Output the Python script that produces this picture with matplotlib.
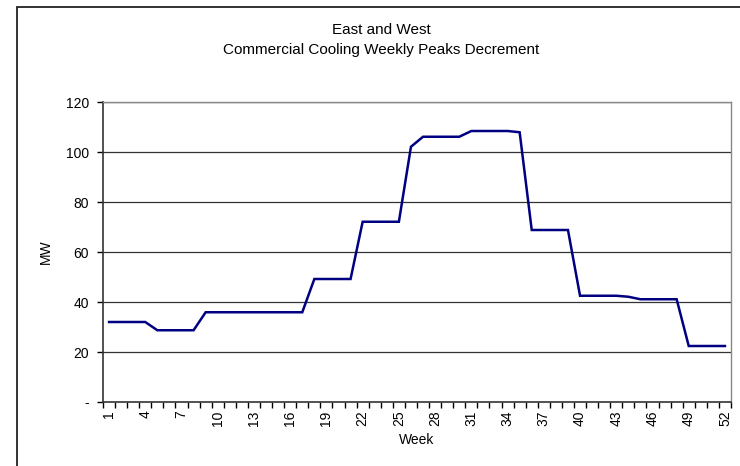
import numpy as np
import matplotlib.pyplot as plt
import matplotlib.patches as patches

plt.rcParams['font.family'] = ['Liberation Sans', 'DejaVu Sans']

# Weekly peak decrement, MW
weeks = list(range(1, 53))
peaks_mw = [
    32, 32, 32, 32, 28.7, 28.7, 28.7, 28.7, 35.9, 35.9,
    35.9, 35.9, 35.9, 35.9, 35.9, 35.9, 35.9, 49.2, 49.2, 49.2,
    49.2, 72.1, 72.1, 72.1, 72.1, 102.1, 106.1, 106.1, 106.1, 106.1,
    108.4, 108.4, 108.4, 108.4, 107.9, 68.8, 68.8, 68.8, 68.8, 42.5,
    42.5, 42.5, 42.5, 42.1, 41.1, 41.1, 41.1, 41.1, 22.4, 22.4,
    22.4, 22.4,
]
y_ticks = [0, 20, 40, 60, 80, 100, 120]
y_tick_labels = ['-', '20', '40', '60', '80', '100', '120']

fig = plt.figure(figsize=(7.4, 4.66), dpi=100)
ax = fig.add_axes([103 / 740, 1 - 402 / 466, 628 / 740, 300 / 466])

# chart frame around the whole figure
fig.patches.append(patches.Rectangle((17 / 740, -0.1), 1.0, 1 - 7 / 466 + 0.1,
                                     transform=fig.transFigure, fill=False,
                                     edgecolor='#222222', linewidth=1.3))

x = np.arange(len(weeks))
ax.plot(x, peaks_mw, color='#000080', linewidth=1.8, solid_joinstyle='miter')

ax.set_xlim(-0.5, len(weeks) - 0.5)
ax.set_ylim(0, 120)
ax.set_yticks(y_ticks)
ax.set_yticklabels(y_tick_labels, fontsize=10)
for yv in y_ticks[1:]:
    ax.axhline(yv, color='#333333', linewidth=0.9, zorder=0)

# category axis: ticks between weeks, labels every third week
ax.set_xticks(np.arange(len(weeks) + 1) - 0.5, minor=False)
ax.set_xticklabels([])
ax.set_xticks(x[::3], minor=True)
ax.set_xticklabels([str(w) for w in weeks[::3]], minor=True, rotation=90, fontsize=10)
ax.tick_params(axis='x', which='minor', length=0, pad=6)
ax.tick_params(axis='x', which='major', length=4, direction='out', width=1)
ax.tick_params(axis='y', length=4, direction='out', width=1, pad=6)

for side in ['top', 'right']:
    ax.spines[side].set_color('#888888')
    ax.spines[side].set_linewidth(1)
for side in ['left', 'bottom']:
    ax.spines[side].set_color('#333333')
    ax.spines[side].set_linewidth(1.2)

ax.set_xlabel('Week', fontsize=10, labelpad=5)
ax.set_ylabel('MW', fontsize=10, labelpad=9)

fig.text(381 / 740, 1 - 30 / 466, 'East and West', ha='center', va='center', fontsize=11)
fig.text(381 / 740, 1 - 50 / 466, 'Commercial Cooling Weekly Peaks Decrement',
         ha='center', va='center', fontsize=11)

fig.savefig('out.png', dpi=100)
